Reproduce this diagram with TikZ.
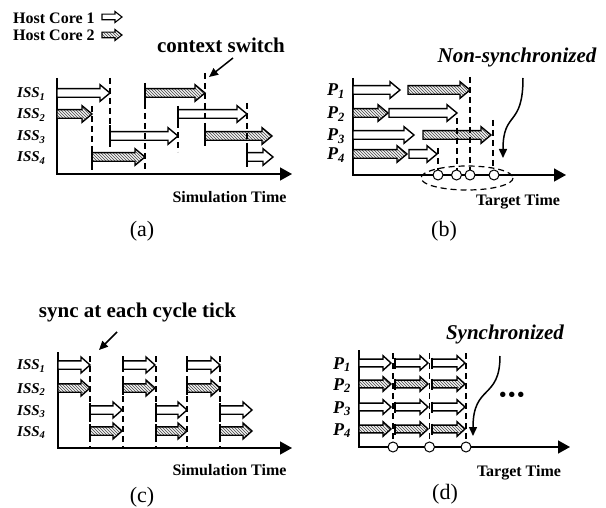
\documentclass[tikz,border=0pt]{standalone}
\usepackage{fontspec}
\setmainfont{Liberation Serif}
\usetikzlibrary{patterns,arrows.meta}
\newcommand{\blk}[4]{% style, x0, x1, y
  \draw[#1] (#2,#4-\hb) -- (#3-\hl,#4-\hb) -- (#3-\hl,#4-\hh) -- (#3,#4) -- (#3-\hl,#4+\hh) -- (#3-\hl,#4+\hb) -- (#2,#4+\hb) -- cycle;}
\newcommand{\sbr}[3]{\draw[sbar] (#1,#2-#3) -- (#1,#2+#3);}
\tikzset{
  ax/.style={line width=1.5pt, line join=miter, -{Triangle[length=12pt,width=13pt]}},
  whitearr/.style={draw=black, fill=white, line width=1.4pt, line join=miter},
  hatcharr/.style={draw=black, line width=1.4pt, line join=miter, preaction={fill=gray!12}, pattern=north west lines, pattern color=gray!55!black},
  dline/.style={line width=1.2pt, dash pattern=on 6pt off 4pt},
  sbar/.style={line width=1.4pt},
  tickc/.style={circle, draw, fill=white, line width=1pt, minimum size=10pt, inner sep=0pt},
  lbl/.style={font=\fontsize{16}{16}\selectfont\bfseries, inner sep=0pt},
  big/.style={font=\fontsize{21}{21}\selectfont\bfseries, inner sep=0pt},
  bigit/.style={font=\fontsize{21}{21}\selectfont\bfseries\itshape, inner sep=0pt},
  capt/.style={font=\fontsize{22}{22}\selectfont, inner sep=0pt},
  iss/.style={font=\fontsize{15}{15}\selectfont\bfseries\itshape, inner sep=0pt, anchor=base west},
  pl/.style={font=\fontsize{18}{18}\selectfont\bfseries\itshape, inner sep=0pt, anchor=base west},
  pointer/.style={line width=1.5pt, -{Triangle[length=9pt,width=8pt]}},
}
\begin{document}
\begin{tikzpicture}[x=1pt,y=-1pt]
\useasboundingbox (0,0) rectangle (606,508);

% ---------- legend ----------
\node[lbl, anchor=base west] (hc1) at (13,24) {Host Core 1};
\node[lbl, anchor=base west] (hc2) at (13,41) {Host Core 2};
\begin{scope}
\def\hb{2.8}\def\hh{5.5}\def\hl{7}
\blk{whitearr, line width=1.1pt}{102}{122}{17}
\blk{hatcharr, line width=1.1pt}{102}{122}{35}
\end{scope}

% ---------- panel (a) ----------
\begin{scope}
\def\hb{4.3}\def\hh{8.3}\def\hl{10}
\draw[ax] (57,78) -- (57,174) -- (292,174);
\node[iss] (a1) at (17,98) {ISS\textsubscript{1}};
\node[iss] (a2) at (17,119) {ISS\textsubscript{2}};
\node[iss] (a3) at (17,141) {ISS\textsubscript{3}};
\node[iss] (a4) at (17,162) {ISS\textsubscript{4}};
\blk{whitearr}{57}{110}{93}
\blk{hatcharr}{145}{205}{93}\sbr{145}{93}{10}
\blk{hatcharr}{57}{92}{114}
\blk{whitearr}{178}{247}{114}\sbr{178}{114}{8}
\blk{whitearr}{110}{178}{136}\sbr{110}{136}{11}
\blk{hatcharr}{205}{272}{136}\sbr{205}{136}{10}
\blk{hatcharr}{92}{145}{157}\sbr{92}{157}{10}
\blk{whitearr}{247}{273}{157}\sbr{247}{157}{10}
\draw[dline] (92,106) -- (92,170);
\draw[dline] (110,78) -- (110,126);
\draw[dline] (145,103) -- (145,170);
\draw[dline] (178,122) -- (178,152);
\draw[dline] (205,73) -- (205,126);
\draw[dline] (247,103) -- (247,147);
\node[big, anchor=base] (cs) at (221,53) {context switch};
\coordinate (csfrom) at (233,58);
\coordinate (csto) at (209,77);
\draw[pointer] (csfrom) -- (csto);
\node[lbl, anchor=base] (simA) at (229.5,203) {Simulation Time};
\node[capt, anchor=base] (capA) at (142,237) {(a)};
\end{scope}

% ---------- panel (b) ----------
\begin{scope}
\def\hb{4.3}\def\hh{8.3}\def\hl{10}
\draw[ax] (353,78) -- (353,175) -- (566,175);
\node[pl] (b1) at (327,96) {P\textsubscript{1}};
\node[pl] (b2) at (327,119) {P\textsubscript{2}};
\node[pl] (b3) at (327,141) {P\textsubscript{3}};
\node[pl] (b4) at (327,160) {P\textsubscript{4}};
\blk{whitearr}{353}{400}{90}
\blk{hatcharr}{408}{470}{90}
\blk{hatcharr}{353}{388}{113}
\blk{whitearr}{389}{457}{113}
\blk{whitearr}{353}{414}{135}
\blk{hatcharr}{423}{491}{135}
\blk{hatcharr}{353}{407}{154}
\blk{whitearr}{409}{437}{154}
\draw[dline] (470,77) -- (470,170);
\draw[dline] (457,118) -- (457,170);
\draw[dline] (438,148) -- (438,170);
\draw[dline] (493,120) -- (493,170);
\draw[dline] (467,178) ellipse [x radius=46, y radius=12];
\node[tickc] (t1) at (438,175) {};
\node[tickc] (t2) at (456.5,175) {};
\node[tickc] (t3) at (470,175) {};
\node[tickc] (t4) at (494,175) {};
\node[bigit, anchor=base] (ns) at (517,63) {Non-synchronized};
\coordinate (nsfrom) at (523,78);
\coordinate (nsto) at (503,158);
\draw[pointer] (nsfrom) .. controls (523,128) and (503,110) .. (nsto);
\node[lbl, anchor=base] (tgB) at (518,206) {Target Time};
\node[capt, anchor=base] (capB) at (444,237) {(b)};
\end{scope}

% ---------- panel (c) ----------
\begin{scope}
\def\hb{4.2}\def\hh{8}\def\hl{9}
\draw[ax] (58,352) -- (58,448) -- (292,448);
\node[iss] (c1) at (17,370) {ISS\textsubscript{1}};
\node[iss] (c2) at (17,393) {ISS\textsubscript{2}};
\node[iss] (c3) at (17,415) {ISS\textsubscript{3}};
\node[iss] (c4) at (17,436) {ISS\textsubscript{4}};
\foreach \x/\y in {58/90,123/155,187/220}{
  \blk{whitearr}{\x}{\y}{365}
  \blk{hatcharr}{\x}{\y}{388}}
\foreach \x/\y in {90/122,156/187,220/252}{
  \blk{whitearr}{\x}{\y}{410}\sbr{\x}{410}{7}
  \blk{hatcharr}{\x}{\y}{431}\sbr{\x}{431}{7}}
\foreach \x in {123,187}{\sbr{\x}{365}{7}\sbr{\x}{388}{7}}
\foreach \x in {90,123,156,187,220}{\draw[dline] (\x,356) -- (\x,448);}
\node[big, anchor=base] (sy) at (137.5,317) {sync at each cycle tick};
\coordinate (syfrom) at (117,332);
\coordinate (syto) at (99,350);
\draw[pointer] (syfrom) -- (syto);
\node[lbl, anchor=base] (simC) at (229.5,475) {Simulation Time};
\node[capt, anchor=base] (capC) at (142,502) {(c)};
\end{scope}

% ---------- panel (d) ----------
\begin{scope}
\def\hb{3.9}\def\hh{7.3}\def\hl{8}
\draw[ax] (359,350) -- (359,447) -- (570,447);
\node[pl] (d1) at (333,369) {P\textsubscript{1}};
\node[pl] (d2) at (333,390) {P\textsubscript{2}};
\node[pl] (d3) at (333,413) {P\textsubscript{3}};
\node[pl] (d4) at (333,435) {P\textsubscript{4}};
\foreach \x/\y in {359/391,395/428,432/465}{
  \blk{whitearr}{\x}{\y}{363}
  \blk{hatcharr}{\x}{\y}{384}
  \blk{whitearr}{\x}{\y}{407}
  \blk{hatcharr}{\x}{\y}{429}}
\foreach \x in {395,432}{\foreach \r in {363,384,407,429}{\sbr{\x}{\r}{5.5}}}
\foreach \x in {393,429.5,466}{\draw[dline] (\x,353) -- (\x,442);}
\node[tickc] (u1) at (393,447) {};
\node[tickc] (u2) at (429.5,447) {};
\node[tickc] (u3) at (466,447) {};
\node[bigit, anchor=base] (sz) at (505,340) {Synchronized};
\coordinate (szfrom) at (500,356);
\coordinate (szto) at (473,436);
\draw[pointer] (szfrom) .. controls (500,400) and (473,384) .. (szto);
\node[font=\fontsize{20}{20}\selectfont\bfseries, inner sep=0pt] (dots) at (512,397) {\textbullet\hspace{2pt}\textbullet\hspace{2pt}\textbullet};
\node[lbl, anchor=base] (tgD) at (519,476) {Target Time};
\node[capt, anchor=base] (capD) at (445,499) {(d)};
\end{scope}
\end{tikzpicture}
\end{document}
